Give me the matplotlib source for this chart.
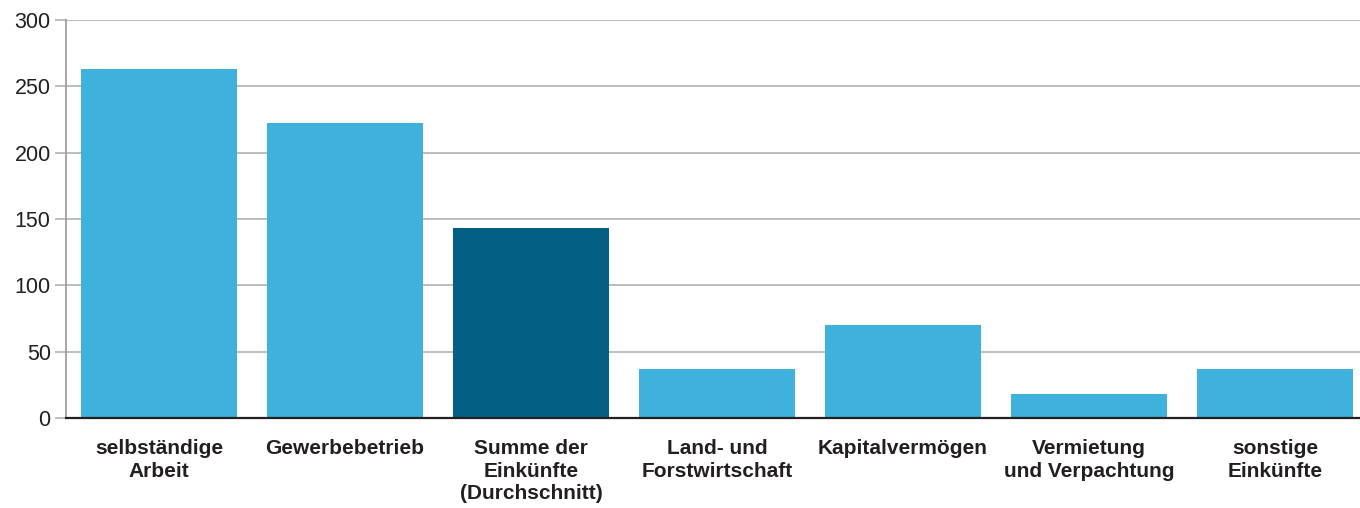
import matplotlib.pyplot as plt

categories = [
    "selbständige\nArbeit",
    "Gewerbebetrieb",
    "Summe der\nEinkünfte\n(Durchschnitt)",
    "Land- und\nForstwirtschaft",
    "Kapitalvermögen",
    "Vermietung\nund Verpachtung",
    "sonstige\nEinkünfte",
]
values = [263, 222, 143, 37, 70, 18, 37]
highlight = 2  # the average bar

plt.rcParams["font.family"] = ["Liberation Sans", "DejaVu Sans"]

fig = plt.figure(figsize=(13.6, 5.08), dpi=100)
# the plot area runs slightly past the right edge of the image, as in the original
ax = fig.add_axes([66 / 1360, 90 / 508, 1302 / 1360, 398 / 508])

colors = ["#045F87" if i == highlight else "#3FB1DD" for i in range(len(values))]
ax.bar(range(len(values)), values, width=0.834, color=colors, zorder=2)

ax.set_xlim(-0.5, len(values) - 0.5)
ax.set_ylim(0, 300)
ax.set_yticks(range(0, 301, 50))
ax.yaxis.grid(True, color="#B8B8B8", linewidth=1.3, zorder=1)
ax.set_axisbelow(True)

ax.set_xticks(range(len(values)))
ax.set_xticklabels(categories, fontsize=15, fontweight="bold", color="#231F20",
                   linespacing=1.25)
ax.tick_params(axis="x", length=0, pad=15)
ax.tick_params(axis="y", length=8, color="#B8B8B8", width=1.3, labelsize=15.5,
               labelcolor="#231F20", pad=3)

for side in ["top", "right"]:
    ax.spines[side].set_visible(False)
ax.spines["left"].set_color("#A0A0A0")
ax.spines["left"].set_linewidth(1.3)
ax.spines["bottom"].set_color("#231F20")
ax.spines["bottom"].set_linewidth(1.6)
ax.spines["bottom"].set_zorder(3)

plt.savefig("out.png", dpi=100)
